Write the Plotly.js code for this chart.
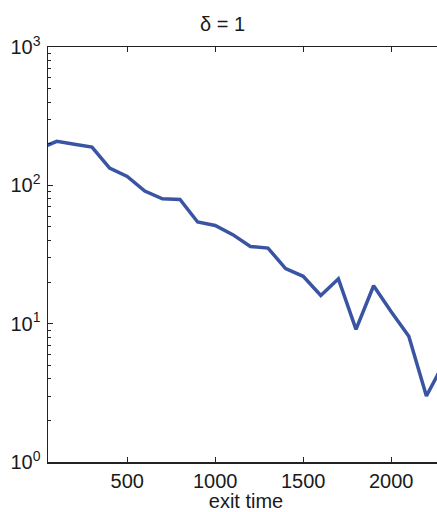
<!DOCTYPE html>
<html>
<head>
<meta charset="utf-8">
<script src="https://cdn.plot.ly/plotly-3.0.1.min.js"></script>
<style>html,body{margin:0;padding:0;overflow:hidden;background:#fff;width:437px;height:512px}</style>
</head>
<body>
<div id="chart"></div>
<script>
const exitTime = [0, 100, 200, 300, 400, 500, 600, 700, 800, 900, 1000, 1100, 1200, 1300, 1400, 1500, 1600, 1700, 1800, 1900, 2000, 2100, 2200, 2300];
const counts   = [184, 208, 198, 189, 133, 116, 91, 80, 79, 54.3, 51.3, 44, 36.1, 35.2, 25, 22, 16, 21.1, 9.1, 18.8, 12.2, 8.1, 3.0, 5.2];
const yTickVals = [1, 10, 100, 1000];
const yTickText = ['10<sup>0</sup>', '10<sup>1</sup>', '10<sup>2</sup>', '10<sup>3</sup>'];
const xTickVals = [500, 1000, 1500, 2000];
const titleText = 'δ = 1';
const xTitle = 'exit time';

const font = {family: 'Liberation Sans, Arial, sans-serif', size: 20, color: '#1a1a1a'};

Plotly.newPlot('chart', [{
  x: exitTime, y: counts, type: 'scatter', mode: 'lines',
  line: {color: '#3a54a4', width: 3.5},
  cliponaxis: true, hoverinfo: 'skip'
}], {
  width: 445, height: 512,
  margin: {l: 48, r: 1, t: 47, b: 50},
  paper_bgcolor: '#fff', plot_bgcolor: '#fff',
  font: font,
  showlegend: false,
  title: {text: titleText, font: font, x: 0.5, xanchor: 'center', y: 1, yref: 'paper', yanchor: 'bottom', pad: {b: 16}},
  xaxis: {
    range: [50, 2300], tickvals: xTickVals, ticktext: xTickVals.map(String),
    ticks: 'inside', ticklen: 5, tickwidth: 1, tickcolor: '#222',
    showline: true, linecolor: '#222', linewidth: 1.5, mirror: 'ticks',
    showgrid: false, zeroline: false, tickfont: font,
    title: {text: xTitle, font: font, standoff: 3}
  },
  yaxis: {
    type: 'log', range: [0, 3], tickvals: yTickVals, ticktext: yTickText,
    ticks: 'inside', ticklen: 5, tickwidth: 1, tickcolor: '#222',
    minor: {ticks: 'inside', ticklen: 3, tickcolor: '#222', dtick: 'D1', showgrid: false},
    showline: true, linecolor: '#222', linewidth: 1.5, mirror: 'ticks',
    showgrid: false, zeroline: false, tickfont: font, ticklabelstandoff: 2
  }
}, {displayModeBar: false, staticPlot: true});
</script>
</body>
</html>
